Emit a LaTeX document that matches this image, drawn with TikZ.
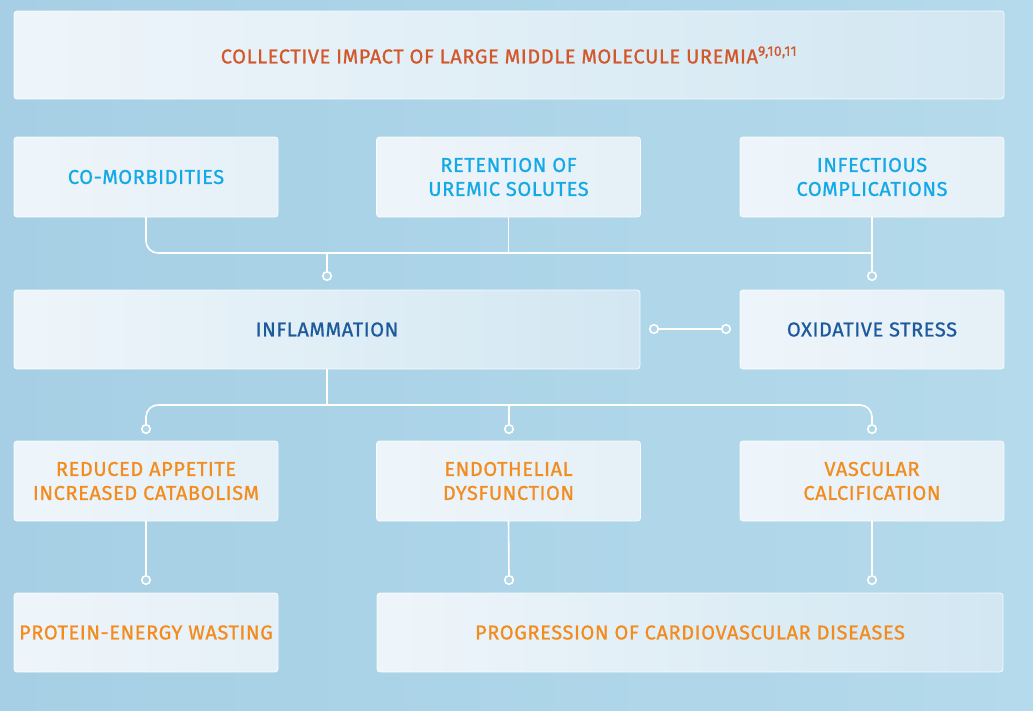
\documentclass[tikz,border=0pt]{standalone}
\usepackage{fontspec}
\setmainfont{Fira Sans}[LetterSpace=3, FakeBold=1.2]
\definecolor{bgL}{HTML}{A6CFE5}
\definecolor{bgR}{HTML}{B4DAEB}
\definecolor{bgM}{HTML}{B0D6E9}
\definecolor{boxA}{HTML}{EEF5FA}
\definecolor{boxB}{HTML}{E5F0F7}
\definecolor{boxC}{HTML}{D2E7F2}
\definecolor{ttl}{HTML}{D2572A}
\definecolor{cyantx}{HTML}{13A8E6}
\definecolor{navytx}{HTML}{1D5A9C}
\definecolor{orangetx}{HTML}{F28C1E}
\begin{document}
\begin{tikzpicture}[x=1pt,y=-1pt,
  box/.style={draw=white, draw opacity=0.85, line width=0.8pt, rounded corners=3pt,
    inner sep=0pt, outer sep=0pt, align=center, minimum height=80pt,
    font=\fontsize{20}{24}\selectfont},
  smallbox/.style={box, left color=boxA, right color=boxB, minimum width=264pt},
  widebox/.style={box, left color=boxA, right color=boxC},
  conn/.style={draw=white, line width=1.6pt},
  dot/.style={circle, draw=white, line width=1.6pt, fill=bgM, minimum size=8.5pt, inner sep=0pt, outer sep=0pt}]
\shade[left color=bgL, right color=bgR] (0,0) rectangle (1033,710);
\useasboundingbox (0,0) rectangle (1033,710);

% boxes
\node[widebox, minimum width=990pt, minimum height=88pt, text=ttl] (title) at (509,55)
  {COLLECTIVE IMPACT OF LARGE MIDDLE MOLECULE UREMIA\textsuperscript{9,10,11}};

\node[smallbox, text=cyantx] (com) at (146,177) {CO-MORBIDITIES};
\node[smallbox, text=cyantx] (ret) at (508.5,177) {RETENTION OF\\UREMIC SOLUTES};
\node[smallbox, text=cyantx] (infc) at (872,177) {INFECTIOUS\\COMPLICATIONS};

\node[widebox, minimum width=626pt, minimum height=79pt, text=navytx] (infl) at (327,329.5) {INFLAMMATION};
\node[smallbox, minimum height=79pt, text=navytx] (oxi) at (872,329.5) {OXIDATIVE STRESS};

\node[smallbox, text=orangetx] (red) at (146,481) {REDUCED APPETITE\\INCREASED CATABOLISM};
\node[smallbox, text=orangetx] (endo) at (508.5,481) {ENDOTHELIAL\\DYSFUNCTION};
\node[smallbox, text=orangetx] (vasc) at (872,481) {VASCULAR\\CALCIFICATION};

\node[smallbox, minimum height=79pt, text=orangetx] (prot) at (146,632.5) {PROTEIN-ENERGY WASTING};
\node[widebox, minimum width=626pt, minimum height=79pt, text=orangetx] (prog) at (690,632.5) {PROGRESSION OF CARDIOVASCULAR DISEASES};

% junctions
\coordinate (j1) at (509,253);
\coordinate (j2) at (509,405);

% dots
\node[dot] (d1) at (327,276) {};
\node[dot] (d2) at (872,276) {};
\node[dot] (d3) at (654,329) {};
\node[dot] (d4) at (726,329) {};
\node[dot] (d5) at (146,429) {};
\node[dot] (d6) at (509,429) {};
\node[dot] (d7) at (872,429) {};
\node[dot] (d8) at (146,580) {};
\node[dot] (d9) at (509,580) {};
\node[dot] (d10) at (872,580) {};

% upper connectors
\draw[conn, rounded corners=12pt] (com.south) |- (d2.north |- j1);
\draw[conn] (ret.south) -- (ret.south |- j1);
\draw[conn] (infc.south) -- (d2.north);
\draw[conn] (d1.north) -- (d1.north |- j1);

% middle
\draw[conn] (d3) -- (d4);

% lower connectors
\draw[conn, rounded corners=12pt] (d5.north) |- (j2) -| (d7.north);
\draw[conn] (infl.south) -- (infl.south |- j2);
\draw[conn] (d6.north) -- (d6.north |- j2);

\draw[conn] (red.south) -- (d8.north);
\draw[conn] (endo.south) -- (d9.north);
\draw[conn] (vasc.south) -- (d10.north);
\end{tikzpicture}
\end{document}
